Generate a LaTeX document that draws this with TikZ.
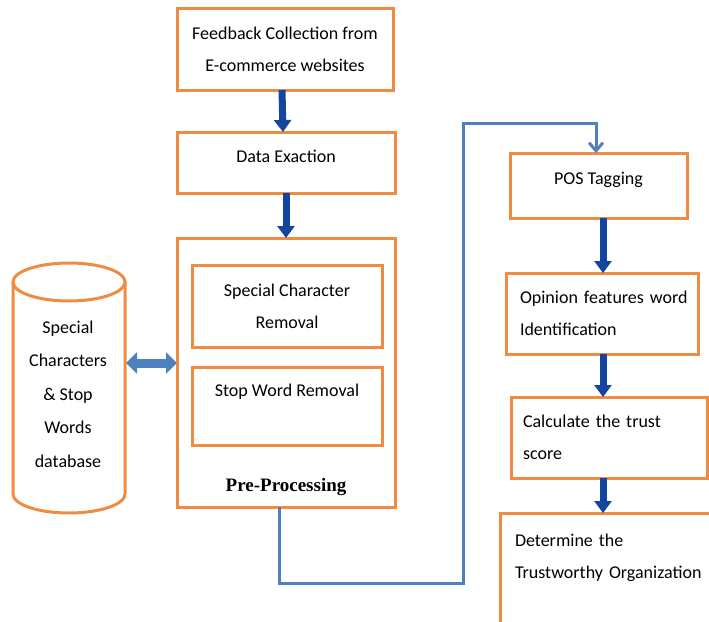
\documentclass[tikz,border=0pt]{standalone}
\usepackage{fontspec}
\setmainfont{Carlito}
\newfontfamily\timesfont{Liberation Serif}
\usetikzlibrary{arrows.meta}
\definecolor{boxorange}{RGB}{240,140,65}
\definecolor{arrowblue}{RGB}{20,70,160}
\definecolor{steel}{RGB}{79,129,189}
\begin{document}
\begin{tikzpicture}[x=1pt,y=-1pt,
  box/.style={draw=boxorange, line width=3pt, fill=white, rectangle, anchor=north west,
    outer sep=0pt, inner sep=0pt, font=\fontsize{18}{32}\selectfont, align=center},
  leftbox/.style={box, align=left},
  bigarrow/.style={draw=arrowblue, line width=7pt, -{Triangle[width=17pt,length=12pt]}},
  dblarrow/.style={draw=steel, line width=9pt, {Triangle[width=21pt,length=11pt]}-{Triangle[width=21pt,length=11pt]}},
  flow/.style={draw=steel, line width=3pt, -{Straight Barb[length=8pt,width=14pt]}},
  cyl/.style={draw=boxorange, line width=3pt, fill=white}]
\useasboundingbox (0,0) rectangle (709,621);
\fill[white] (0,0) rectangle (709,621);
\clip (0,0) rectangle (709,621);

% left column
\node[box, minimum width=216pt, minimum height=82pt] (fb) at (177,8) {Feedback Collection from\\E-commerce websites};
\node[box, minimum width=218pt, minimum height=61pt] (de) at (177,132) {Data Exaction\\[-20pt]\mbox{}};
\node[box, minimum width=218pt, minimum height=269pt] (pre) at (177,238) {};
\node[box, minimum width=190pt, minimum height=82pt] (sc) at (192,265) {Special Character\\Removal};
\node[box, minimum width=190pt, minimum height=78pt] (sw) at (192,367) {Stop Word Removal\\\mbox{}};
\node[font=\timesfont\bfseries\fontsize{19}{24}\selectfont, inner sep=0pt] (prelabel) at (286,487) {Pre-Processing};

% database cylinder
\filldraw[cyl] (13,282) -- (13,494) arc[start angle=180, end angle=0, x radius=56, y radius=19] -- (125,282);
\draw[cyl] (69,282) ellipse[x radius=56, y radius=19];
\node[font=\fontsize{18}{33.5}\selectfont, align=center, inner sep=0pt] (db) at (68,394) {Special\\Characters\\\& Stop\\Words\\database};
\coordinate (cylR) at (126,363);

% right column
\node[box, minimum width=177pt, minimum height=65pt] (pos) at (510,153) {POS Tagging\\[-17pt]\mbox{}};
\node[leftbox, minimum width=192pt, minimum height=81pt, inner xsep=14pt, text width=164pt] (op) at (506,273) {\mbox{Opinion features word}\\\mbox{Identification}};
\node[leftbox, minimum width=196pt, minimum height=81pt, inner xsep=12pt, text width=172pt] (cs) at (511,397) {\mbox{Calculate the trust}\\\mbox{score}};
\node[leftbox, minimum width=215pt, minimum height=118pt, inner xsep=15pt, text width=185pt] (dt) at (500,513) {\mbox{Determine the}\\\mbox{Trustworthy Organization}\\\mbox{}};

% connectors
\coordinate (ax) at (603,0);
\draw[bigarrow] ([xshift=-3pt]fb.south) -- ([xshift=-3pt]de.north);
\draw[bigarrow] (de.south) -- (pre.north);
\draw[bigarrow] (pos.south -| ax) -- (op.north -| ax);
\draw[bigarrow] (op.south -| ax) -- (cs.north -| ax);
\draw[bigarrow] (cs.south -| ax) -- (dt.north -| ax);
\draw[dblarrow] (cylR) -- (pre.west |- cylR);

\coordinate (c1) at (279,583);
\coordinate (c2) at (463,583);
\coordinate (c3) at (463,123);
\coordinate (c4) at (596,123);
\draw[flow] (pre.south -| c1) -- (c1) -- (c2) -- (c3) -- (c4) -- (pos.north -| c4);
\end{tikzpicture}
\end{document}
